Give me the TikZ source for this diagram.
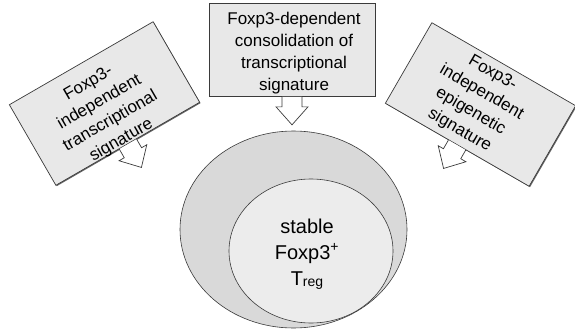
\documentclass[tikz,border=0pt]{standalone}
\usepackage{fontspec}
\setmainfont{Liberation Sans}
\usetikzlibrary{calc,shadows,shapes.geometric}
\definecolor{boxfill}{HTML}{E8E8E8}
\definecolor{outerfill}{HTML}{D9D9D9}
\definecolor{innerfill}{HTML}{ECECEC}
\definecolor{edgecol}{HTML}{3A3A3A}
\begin{document}
\begin{tikzpicture}[x=1pt,y=-1pt,
  sigbox/.style={draw=edgecol, line width=0.7pt, fill=boxfill, minimum width=166pt, minimum height=93pt, inner sep=0pt,
    drop shadow={shadow xshift=0.9pt, shadow yshift=-0.9pt, fill=black!75, opacity=0.8}},
  sigtext/.style={align=center, font=\fontsize{17}{22}\selectfont, inner sep=0pt},
  hollow/.style={draw=edgecol, line width=0.7pt, fill=white, line join=miter},
  blob/.style={draw=edgecol, line width=0.6pt, ellipse, inner sep=0pt}]
\useasboundingbox (0,0) rectangle (575,329);
% ellipses
\node (outer) [blob, fill=outerfill, minimum width=227pt, minimum height=197pt] at (293.5,229.5) {};
\node (inner) [blob, fill=innerfill, minimum width=164pt, minimum height=144pt] at (311,251) {};
\node (treg) [align=center, inner sep=0pt, font=\fontsize{20}{26}\selectfont] at (307,254)
  {stable\\Foxp3\textsuperscript{+}\\T\raisebox{-1.5pt}{\fontsize{14}{14}\selectfont reg}};
% boxes
\node (lb) [sigbox, rotate=30] at (104.5,103.5) {};
\node (tb) [sigbox] at (292,50) {};
\node (rb) [sigbox, rotate=-30] at (480.5,104.5) {};
% texts
\node (lbt) [sigtext, rotate=30] at (105,112) {Foxp3-\\independent\\transcriptional\\signature};
\node (tbt) [sigtext] at (294,53) {Foxp3-dependent\\consolidation of\\transcriptional\\signature};
\node (rbt) [sigtext, rotate=-30] at (476,102) {Foxp3-\\independent\\epigenetic\\signature};
% hollow arrows (edge direction e, outward normal n, polar angles in the y-down frame)
% left box: e=-30, n=60
\draw[hollow] ($(lb.south)+(150:10)$) -- ++(60:10) -- ++(150:6) -- ($(lb.south)+(60:27)$)
  -- ($(lb.south)+(60:10)+(-30:16)$) -- ++(150:6) -- ++(240:10);
% top box: e=0, n=90
\draw[hollow] ($(tb.south)+(180:10)$) -- ++(90:10) -- ++(180:6) -- ($(tb.south)+(90:28)$)
  -- ($(tb.south)+(90:10)+(0:16)$) -- ++(180:6) -- ++(270:10);
% right box: e=30, n=120
\draw[hollow] ($(rb.south)+(210:10)$) -- ++(120:10) -- ++(210:6) -- ($(rb.south)+(120:27)$)
  -- ($(rb.south)+(120:10)+(30:16)$) -- ++(210:6) -- ++(300:10);
\end{tikzpicture}
\end{document}
